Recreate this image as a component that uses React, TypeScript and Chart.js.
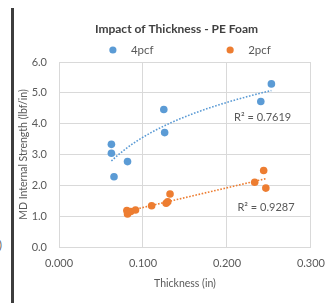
import React, { useEffect, useRef } from 'react';
import { Chart, registerables } from 'chart.js';

Chart.register(...registerables);

// ---- data ----
const chartTitle = 'Impact of Thickness - PE Foam';
const seriesNames = ['4pcf', '2pcf'];
const seriesColors = ['#5B9BD5', '#ED7D31'];

const thickness4pcf = [0.0624, 0.0624, 0.0816, 0.0655, 0.1248, 0.1258, 0.2403, 0.2529];
const strength4pcf = [3.33, 3.04, 2.77, 2.28, 4.46, 3.71, 4.72, 5.29];

const thickness2pcf = [0.0808, 0.0816, 0.0854, 0.0911, 0.1103, 0.1276, 0.1295, 0.1322, 0.2330, 0.2437, 0.2463];
const strength2pcf = [1.18, 1.07, 1.15, 1.20, 1.34, 1.42, 1.47, 1.72, 2.10, 2.48, 1.91];

const rSquaredTexts = ['R² = 0.7619', 'R² = 0.9287'];
const rSquaredAtX = [0.2425, 0.2465];
const rSquaredAtY = [4.19, 1.27];

const xTicks = [0, 0.1, 0.2, 0.3];
const yTicks = [0, 1, 2, 3, 4, 5, 6];
const xTitle = 'Thickness (in)';
const yTitle = 'MD Internal Strength (lbf/in)';

// ---- trendlines (least squares fits of the data, as Excel does) ----
function logFit(xs: number[], ys: number[]) {
  const lx = xs.map((v) => Math.log(v));
  const n = xs.length;
  const mx = lx.reduce((a, b) => a + b, 0) / n;
  const my = ys.reduce((a, b) => a + b, 0) / n;
  let sxy = 0, sxx = 0;
  for (let i = 0; i < n; i++) {
    sxy += (lx[i] - mx) * (ys[i] - my);
    sxx += (lx[i] - mx) * (lx[i] - mx);
  }
  const b = sxy / sxx;
  const a = my - b * mx;
  const lo = Math.min(...xs), hi = Math.max(...xs);
  const pts: { x: number; y: number }[] = [];
  const steps = 40;
  for (let i = 0; i <= steps; i++) {
    const x = lo + ((hi - lo) * i) / steps;
    pts.push({ x, y: a + b * Math.log(x) });
  }
  return pts;
}

function linFit(xs: number[], ys: number[]) {
  const n = xs.length;
  const mx = xs.reduce((a, b) => a + b, 0) / n;
  const my = ys.reduce((a, b) => a + b, 0) / n;
  let sxy = 0, sxx = 0;
  for (let i = 0; i < n; i++) {
    sxy += (xs[i] - mx) * (ys[i] - my);
    sxx += (xs[i] - mx) * (xs[i] - mx);
  }
  const b = sxy / sxx;
  const a = my - b * mx;
  const lo = Math.min(...xs), hi = Math.max(...xs);
  return [
    { x: lo, y: a + b * lo },
    { x: hi, y: a + b * hi },
  ];
}

const FONT = 'Lato, Carlito, "Open Sans", sans-serif';
const TEXT = '#595959';
const GRID = '#D9D9D9';

const headerPlugin = {
  id: 'header',
  afterDraw(chart: any) {
    const ctx = chart.ctx;
    const w = chart.width;
    ctx.save();
    ctx.fillStyle = '#404040';
    ctx.font = `bold 12px ${FONT}`;
    ctx.textAlign = 'center';
    ctx.textBaseline = 'middle';
    ctx.fillText(chartTitle, w * 0.527, 29);

    // legend
    const dotX = [w * 0.337, w * 0.687];
    ctx.font = `11.5px ${FONT}`;
    ctx.textAlign = 'left';
    seriesNames.forEach((name, i) => {
      ctx.fillStyle = seriesColors[i];
      ctx.beginPath();
      ctx.arc(dotX[i], 50, 3.6, 0, Math.PI * 2);
      ctx.fill();
      ctx.fillStyle = TEXT;
      ctx.fillText(name, dotX[i] + 18, 50);
    });

    // R² labels
    const xs = chart.scales.x;
    const ys = chart.scales.y;
    ctx.font = `11px ${FONT}`;
    ctx.textAlign = 'center';
    ctx.fillStyle = TEXT;
    rSquaredTexts.forEach((t, i) => {
      ctx.fillText(t, xs.getPixelForValue(rSquaredAtX[i]), ys.getPixelForValue(rSquaredAtY[i]));
    });
    ctx.restore();
  },
};

export default function App() {
  const ref = useRef<HTMLCanvasElement | null>(null);

  useEffect(() => {
    if (!ref.current) return;
    const toPts = (xs: number[], ys: number[]) => xs.map((x, i) => ({ x, y: ys[i] }));
    const chart = new Chart(ref.current, {
      type: 'scatter',
      data: {
        datasets: [
          {
            label: seriesNames[0],
            data: toPts(thickness4pcf, strength4pcf),
            backgroundColor: seriesColors[0],
            borderColor: seriesColors[0],
            pointRadius: 3.8,
            pointBorderWidth: 0,
            order: 1,
          },
          {
            label: seriesNames[1],
            data: toPts(thickness2pcf, strength2pcf),
            backgroundColor: seriesColors[1],
            borderColor: seriesColors[1],
            pointRadius: 3.8,
            pointBorderWidth: 0,
            order: 1,
          },
          {
            label: 'trend4',
            type: 'line',
            data: logFit(thickness4pcf, strength4pcf),
            borderColor: seriesColors[0],
            borderWidth: 1.6,
            borderDash: [1.6, 1.6],
            pointRadius: 0,
            fill: false,
            order: 2,
          } as any,
          {
            label: 'trend2',
            type: 'line',
            data: linFit(thickness2pcf, strength2pcf),
            borderColor: seriesColors[1],
            borderWidth: 1.6,
            borderDash: [1.6, 1.6],
            pointRadius: 0,
            fill: false,
            order: 2,
          } as any,
        ],
      },
      options: {
        animation: false,
        responsive: false,
        layout: { padding: { left: 14, top: 62, right: 15, bottom: 8 } },
        plugins: {
          legend: { display: false },
          title: { display: false },
          tooltip: { enabled: false },
        },
        scales: {
          x: {
            type: 'linear',
            min: 0,
            max: 0.3,
            afterBuildTicks: (s: any) => {
              s.ticks = xTicks.map((v) => ({ value: v }));
            },
            afterFit: (s: any) => {
              s.height = 48;
            },
            ticks: {
              color: TEXT,
              font: { family: FONT, size: 11 },
              padding: 10,
              maxRotation: 0,
              callback: (v: any) => Number(v).toFixed(3),
            },
            grid: { color: GRID, drawTicks: false, lineWidth: 1 },
            border: { display: true, color: GRID },
            title: {
              display: true,
              text: xTitle,
              color: TEXT,
              font: { family: FONT, size: 10.5 },
              padding: { top: 4, bottom: 5 },
            },
          },
          y: {
            type: 'linear',
            min: 0,
            max: 6,
            afterBuildTicks: (s: any) => {
              s.ticks = yTicks.map((v) => ({ value: v }));
            },
            afterFit: (s: any) => {
              s.width = 45;
            },
            ticks: {
              color: TEXT,
              font: { family: FONT, size: 11 },
              padding: 12,
              callback: (v: any) => Number(v).toFixed(1),
            },
            grid: { color: GRID, drawTicks: false, lineWidth: 1 },
            border: { display: true, color: GRID },
            title: {
              display: true,
              text: yTitle,
              color: TEXT,
              font: { family: FONT, size: 10.5 },
              padding: { top: 3, bottom: 2 },
            },
          },
        },
      },
      plugins: [headerPlugin],
    });
    return () => chart.destroy();
  }, []);

  return (
    <div style={{ position: 'absolute', left: 0, top: 0, width: 335, height: 303, background: '#fff', overflow: 'hidden' }}>
      <div style={{ position: 'absolute', left: 10.5, top: 8, width: 3, height: 295, background: '#3d3d3d' }} />
      <span style={{ position: 'absolute', left: -1, top: 238, fontFamily: FONT, fontSize: 11, color: TEXT }}>)</span>
      <canvas ref={ref} width={335} height={303} style={{ position: 'absolute', left: 0, top: 0, display: 'block' }} />
    </div>
  );
}
